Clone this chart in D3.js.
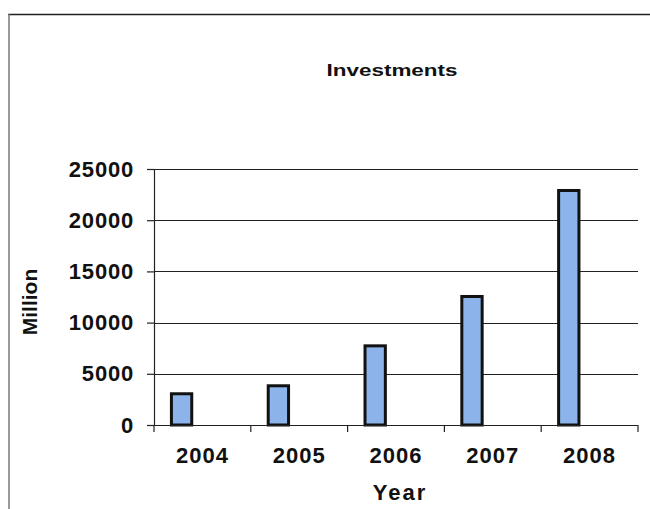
<!DOCTYPE html>
<html>
<head>
<meta charset="utf-8">
<script src="https://cdn.jsdelivr.net/npm/d3@7"></script>
<style>
  html, body { margin: 0; padding: 0; background: #fff; }
  svg { display: block; }
  text { font-family: Arial, "Liberation Sans", sans-serif; font-weight: bold; fill: #111; }
</style>
</head>
<body>
<svg id="chart" width="650" height="509"></svg>
<script>
// Investment totals per year, in millions
const years = ["2004", "2005", "2006", "2007", "2008"];
const investments = [3050, 3830, 7730, 12550, 22900];
const yTicks = [0, 5000, 10000, 15000, 20000, 25000];

const title = "Investments";
const xTitle = "Year";
const yTitle = "Million";

const svg = d3.select("#chart");
const plot = { left: 154, right: 638, top: 169, bottom: 425 };

// Outer frame (top and left edges)
svg.append("line").attr("x1", 8).attr("x2", 650).attr("y1", 14.5).attr("y2", 14.5)
  .attr("stroke", "#222").attr("stroke-width", 1.5);
svg.append("line").attr("x1", 9).attr("x2", 9).attr("y1", 14).attr("y2", 509)
  .attr("stroke", "#777").attr("stroke-width", 1.5);

const x = d3.scaleBand().domain(years).range([plot.left, plot.right]).padding(0);
const y = d3.scaleLinear().domain([0, 25000]).range([plot.bottom, plot.top]);

// Horizontal gridlines
svg.append("g").selectAll("line").data(yTicks.filter(d => d > 0)).join("line")
  .attr("x1", plot.left).attr("x2", plot.right)
  .attr("y1", d => Math.round(y(d)) + 0.5).attr("y2", d => Math.round(y(d)) + 0.5)
  .attr("stroke", "#222").attr("stroke-width", 1.2);

// Y axis
const yAxis = svg.append("g")
  .attr("transform", `translate(${plot.left},0)`)
  .call(d3.axisLeft(y).tickValues(yTicks).tickSize(7).tickPadding(13).tickFormat(d3.format("d")));
yAxis.select(".domain").attr("stroke", "#222").attr("stroke-width", 1.2);
yAxis.selectAll(".tick line").attr("stroke", "#222").attr("stroke-width", 1.2);
yAxis.selectAll(".tick text")
  .style("font-family", "Arial, 'Liberation Sans', sans-serif")
  .style("font-weight", "bold").style("font-size", "22px")
  .attr("fill", "#111").attr("letter-spacing", "0.8px");

// Bars
const bw = x.bandwidth();
svg.append("g").selectAll("rect").data(years.map((yr, i) => ({ yr, v: investments[i] }))).join("rect")
  .attr("x", d => x(d.yr) + bw * 0.18)
  .attr("width", bw * 0.21)
  .attr("y", d => y(d.v))
  .attr("height", d => y(0) - y(d.v))
  .attr("fill", "#8db4ea")
  .attr("stroke", "#111")
  .attr("stroke-width", 3);

// X axis: ticks at category boundaries, labels centered in each band
const xAxisG = svg.append("g").attr("transform", `translate(0,${plot.bottom})`);
xAxisG.append("line").attr("x1", plot.left).attr("x2", plot.right).attr("y1", 0.5).attr("y2", 0.5)
  .attr("stroke", "#222").attr("stroke-width", 1.2);
const boundaries = years.map(d => x(d)).concat([plot.right]);
xAxisG.selectAll("line.tick").data(boundaries).join("line").attr("class", "tick")
  .attr("x1", d => d).attr("x2", d => d).attr("y1", 0).attr("y2", 7)
  .attr("stroke", "#222").attr("stroke-width", 1.2);
xAxisG.selectAll("text").data(years).join("text")
  .attr("x", d => x(d) + bw / 2)
  .attr("y", 38)
  .attr("text-anchor", "middle")
  .attr("letter-spacing", "1px")
  .style("font-size", "22px")
  .text(d => d);

// Titles
svg.append("text").attr("x", 392).attr("y", 76).attr("text-anchor", "middle")
  .style("font-size", "17px")
  .attr("textLength", 131).attr("lengthAdjust", "spacingAndGlyphs")
  .text(title);

svg.append("text").attr("x", 400).attr("y", 500).attr("text-anchor", "middle")
  .style("font-size", "22px").attr("letter-spacing", "2px")
  .text(xTitle);

svg.append("text")
  .attr("transform", "translate(37,302) rotate(-90)")
  .attr("text-anchor", "middle")
  .style("font-size", "21px")
  .text(yTitle);
</script>
</body>
</html>
